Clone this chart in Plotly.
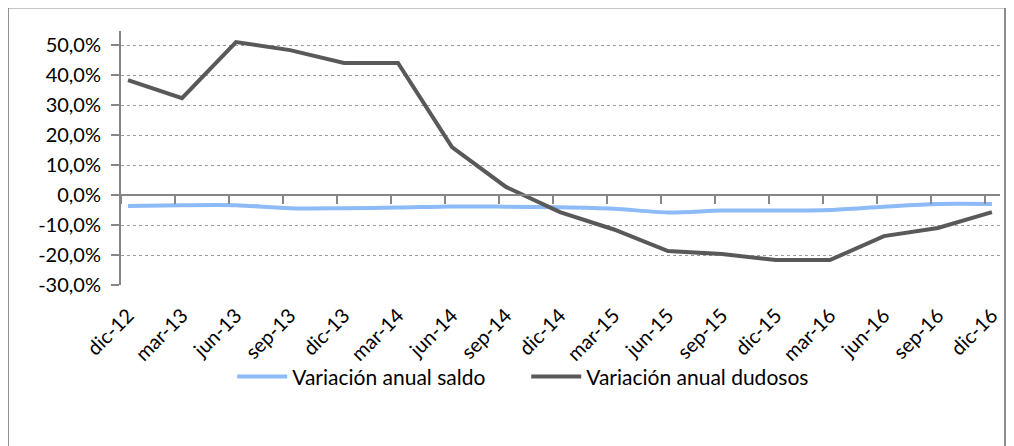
import plotly.graph_objects as go

categories = ["dic-12", "mar-13", "jun-13", "sep-13", "dic-13", "mar-14", "jun-14", "sep-14",
              "dic-14", "mar-15", "jun-15", "sep-15", "dic-15", "mar-16", "jun-16", "sep-16", "dic-16"]
saldo = [-3.7, -3.4, -3.4, -4.4, -4.4, -4.2, -3.8, -3.9, -4.1, -4.6, -5.8, -5.2, -5.2, -5.0, -3.9, -3.0, -3.0]
dudosos = [38.3, 32.3, 51.0, 48.3, 44.0, 44.0, 16.0, 2.7, -5.7, -11.5, -18.7, -19.7, -21.7, -21.7, -13.7, -11.0, -5.7]
y_ticks = [-30, -20, -10, 0, 10, 20, 30, 40, 50]
y_tick_text = ["-30,0%", "-20,0%", "-10,0%", "0,0%", "10,0%", "20,0%", "30,0%", "40,0%", "50,0%"]
y_range = [-30, 54.67]
title_text = "Morosidad hogares: crédito para vivienda"

FONT = "Lato"
AXIS = "#868686"

fig = go.Figure()
fig.add_trace(go.Scatter(x=categories, y=saldo, name="Variación anual saldo", mode="lines",
                         line=dict(color="#8DBBF7", width=4, shape="spline", smoothing=0.8)))
fig.add_trace(go.Scatter(x=categories, y=dudosos, name="Variación anual dudosos", mode="lines",
                         line=dict(color="#595959", width=4)))
fig.add_trace(go.Scatter(x=[None], y=[None], xaxis="x2", showlegend=False, hoverinfo="skip"))

zero_pos = (0 - y_range[0]) / (y_range[1] - y_range[0])

# page body has an 8px default margin, so the figure is sized/offset to compensate
fig.update_layout(
    width=1006, height=438,
    margin=dict(l=113, r=14, t=23, b=161, autoexpand=False),
    paper_bgcolor="white", plot_bgcolor="white",
    showlegend=True,
    legend=dict(orientation="h", x=0.461, xanchor="center", y=-0.362, yanchor="middle",
                font=dict(family=FONT, size=21, color="#000"), entrywidth=229,
                entrywidthmode="pixels", itemwidth=50, bgcolor="rgba(0,0,0,0)"),
    xaxis=dict(type="category", range=[-0.13, 16.15], tickangle=-45, ticks="", showline=False,
               showgrid=False, zeroline=False, tickfont=dict(family=FONT, size=20, color="#000"),
               ticklabelstandoff=14, automargin=False),
    xaxis2=dict(overlaying="x", anchor="free", position=zero_pos, range=[-0.13, 16.15],
                tick0=-0.13, dtick=1, ticks="outside", ticklen=8, tickwidth=1.5, tickcolor=AXIS,
                showline=True, linecolor=AXIS, linewidth=2, showticklabels=False,
                showgrid=False, zeroline=False, automargin=False),
    yaxis=dict(range=y_range, tickvals=y_ticks, ticktext=y_tick_text,
               showline=True, linecolor=AXIS, linewidth=2, ticks="outside", ticklen=8,
               tickwidth=1.5, tickcolor=AXIS, showgrid=True, gridcolor="#9a9a9a", gridwidth=1,
               griddash="dot", zeroline=False, tickfont=dict(family=FONT, size=20, color="#000"),
               ticklabelstandoff=6, automargin=False),
    shapes=[dict(type="rect", xref="paper", yref="paper", x0=-0.1286, x1=1.0057, y0=-0.75, y1=1.0925,
                 line=dict(color="#8c8c8c", width=2), fillcolor="rgba(0,0,0,0)", layer="below")],
    annotations=[dict(text="<b>" + title_text + "</b>", xref="paper", yref="paper", x=0.554, y=1.102,
                      xanchor="center", yanchor="bottom", showarrow=False,
                      font=dict(family=FONT, size=16, color="#1F6BFF"))],
)

fig.write_html("out.html")
